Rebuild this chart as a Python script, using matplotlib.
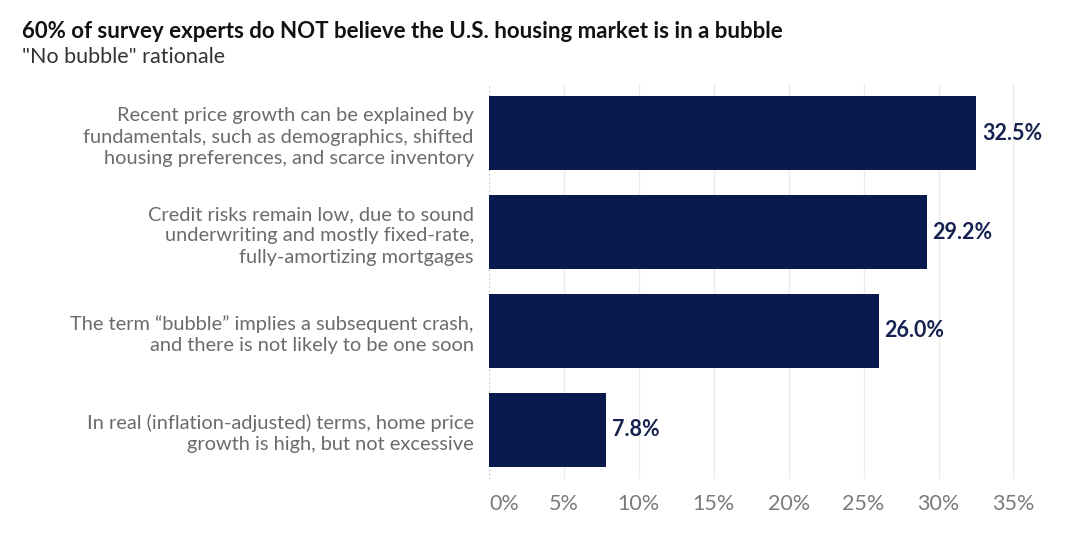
import matplotlib
matplotlib.use('Agg')
import matplotlib.pyplot as plt
from matplotlib.ticker import FuncFormatter

# data
categories = [
    'Recent price growth can be explained by\nfundamentals, such as demographics, shifted\nhousing preferences, and scarce inventory',
    'Credit risks remain low, due to sound\nunderwriting and mostly fixed-rate,\nfully-amortizing mortgages',
    'The term \u201cbubble\u201d implies a subsequent crash,\nand there is not likely to be one soon',
    'In real (inflation-adjusted) terms, home price\ngrowth is high, but not excessive',
]
shares = [32.5, 29.2, 26.0, 7.8]
ticks = [0, 5, 10, 15, 20, 25, 30, 35]

title = '60% of survey experts do NOT believe the U.S. housing market is in a bubble'
subtitle = '"No bubble" rationale'

navy = '#0b1a4e'
gray = '#6b6b6b'

plt.rcParams['font.family'] = ['Lato', 'DejaVu Sans']

fig = plt.figure(figsize=(10.8, 5.35), dpi=100)
ax = fig.add_axes([0.4528, 0.1047, 0.505, 0.7383])

ypos = list(range(len(categories)))
ax.barh(ypos, shares, height=0.75, color=navy, zorder=3)

# value labels at bar ends
for y, v in zip(ypos, shares):
    ax.text(v + 0.4, y, f'{v:.1f}%', va='center', ha='left',
            fontsize=15.5, fontweight='bold', color='#16224f', zorder=4)

ax.set_ylim(3.5, -0.5)
ax.set_xlim(0, 36.4)
ax.set_yticks(ypos)
ax.set_yticklabels(categories, fontsize=14.4, color=gray, linespacing=1.32)
ax.set_xticks(ticks)
ax.xaxis.set_major_formatter(FuncFormatter(lambda v, p: f'{v:.0f}%'))
ax.tick_params(axis='x', labelsize=15.5, labelcolor='#7a7a7a', length=0, pad=11)
ax.tick_params(axis='y', length=0, pad=11)
ax.get_xticklabels()[0].set_horizontalalignment('left')

# grid: faint solid lines, dotted baseline at zero
for t in ticks[1:]:
    ax.axvline(t, color='#ececec', lw=1, zorder=1)
ax.axvline(0, color='#bdbdbd', lw=1, ls=(0, (1, 2)), zorder=2)

for s in ax.spines.values():
    s.set_visible(False)

fig.text(22 / 1080, 1 - 31 / 535, title, fontsize=16, fontweight='bold',
         color='#111111', va='center', ha='left')
fig.text(22 / 1080, 1 - 57 / 535, subtitle, fontsize=15.5, color='#333333',
         va='center', ha='left')

fig.savefig('out.png', dpi=100, facecolor='white')
